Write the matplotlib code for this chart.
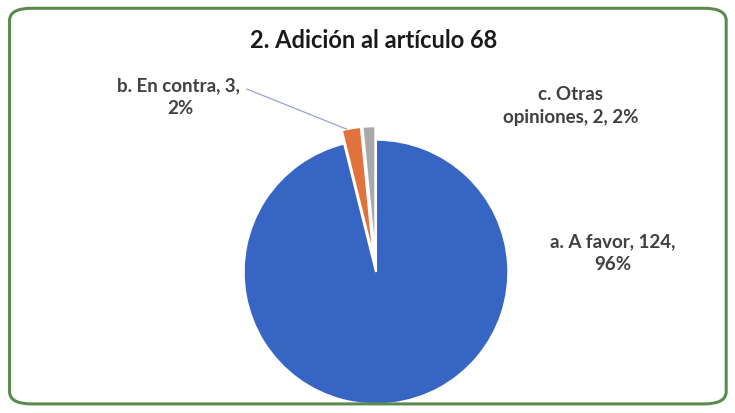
import matplotlib
matplotlib.use("Agg")
import numpy as np
import matplotlib.pyplot as plt
from matplotlib.patches import FancyBboxPatch

title = "2. Adición al artículo 68"
categories = ["a. A favor", "b. En contra", "c. Otras opiniones"]
values = [124, 3, 2]
label_texts = ["a. A favor, 124,\n96%", "b. En contra, 3, \n2%", "c. Otras\nopiniones, 2, 2%"]
colors = ["#3765C3", "#E2723C", "#A9A9A9"]

plt.rcParams["font.family"] = ["Lato", "DejaVu Sans"]

fig = plt.figure(figsize=(7.35, 4.13), dpi=100)
fig.patch.set_facecolor("white")

ax = fig.add_axes([0, 0, 1, 1])
ax.set_facecolor("none")
wedges, _ = ax.pie(values, colors=colors, startangle=90, counterclock=False,
                   explode=[0, 0.1, 0.1], radius=0.98,
                   wedgeprops=dict(edgecolor="white", linewidth=1.5))

# 1 data unit = 135 px, pie centre at pixel (376, 272)
ax.set_xlim(-376 / 135, (735 - 376) / 135)
ax.set_ylim(-(413 - 272) / 135, 272 / 135)
ax.set_aspect("auto")
ax.axis("off")

# rounded green frame
frame = FancyBboxPatch((0.013, 0.022), 0.975, 0.958, boxstyle="round,pad=0,rounding_size=0.03",
                       transform=fig.transFigure, facecolor="none", edgecolor="#5B8A4E",
                       linewidth=2.2, zorder=5)
fig.patches.append(frame)

txt = dict(ha="center", va="center", fontsize=13.5, fontweight="bold", color="#404040",
           linespacing=1.45)
ax.text(1.756, 0.14, label_texts[0], **txt)
ax.text(1.44, 1.23, label_texts[2], **txt)

# leader line to the outer edge of the "En contra" wedge
w = wedges[1]
ang = np.deg2rad((w.theta1 + w.theta2) / 2 + 2)
tip = (w.center[0] + w.r * np.cos(ang), w.center[1] + w.r * np.sin(ang))
ax.annotate(label_texts[1], xy=tip, xytext=(-1.45, 1.296),
            arrowprops=dict(arrowstyle="-", color="#9BA3C9", lw=0.9,
                            shrinkA=0, shrinkB=0, relpos=(0.99, 0.74)), **txt)

fig.text(0.508, 0.903, title, ha="center", va="center", fontsize=17, fontweight="bold",
         color="#1a1a1a")

fig.savefig("out.png", dpi=100)
